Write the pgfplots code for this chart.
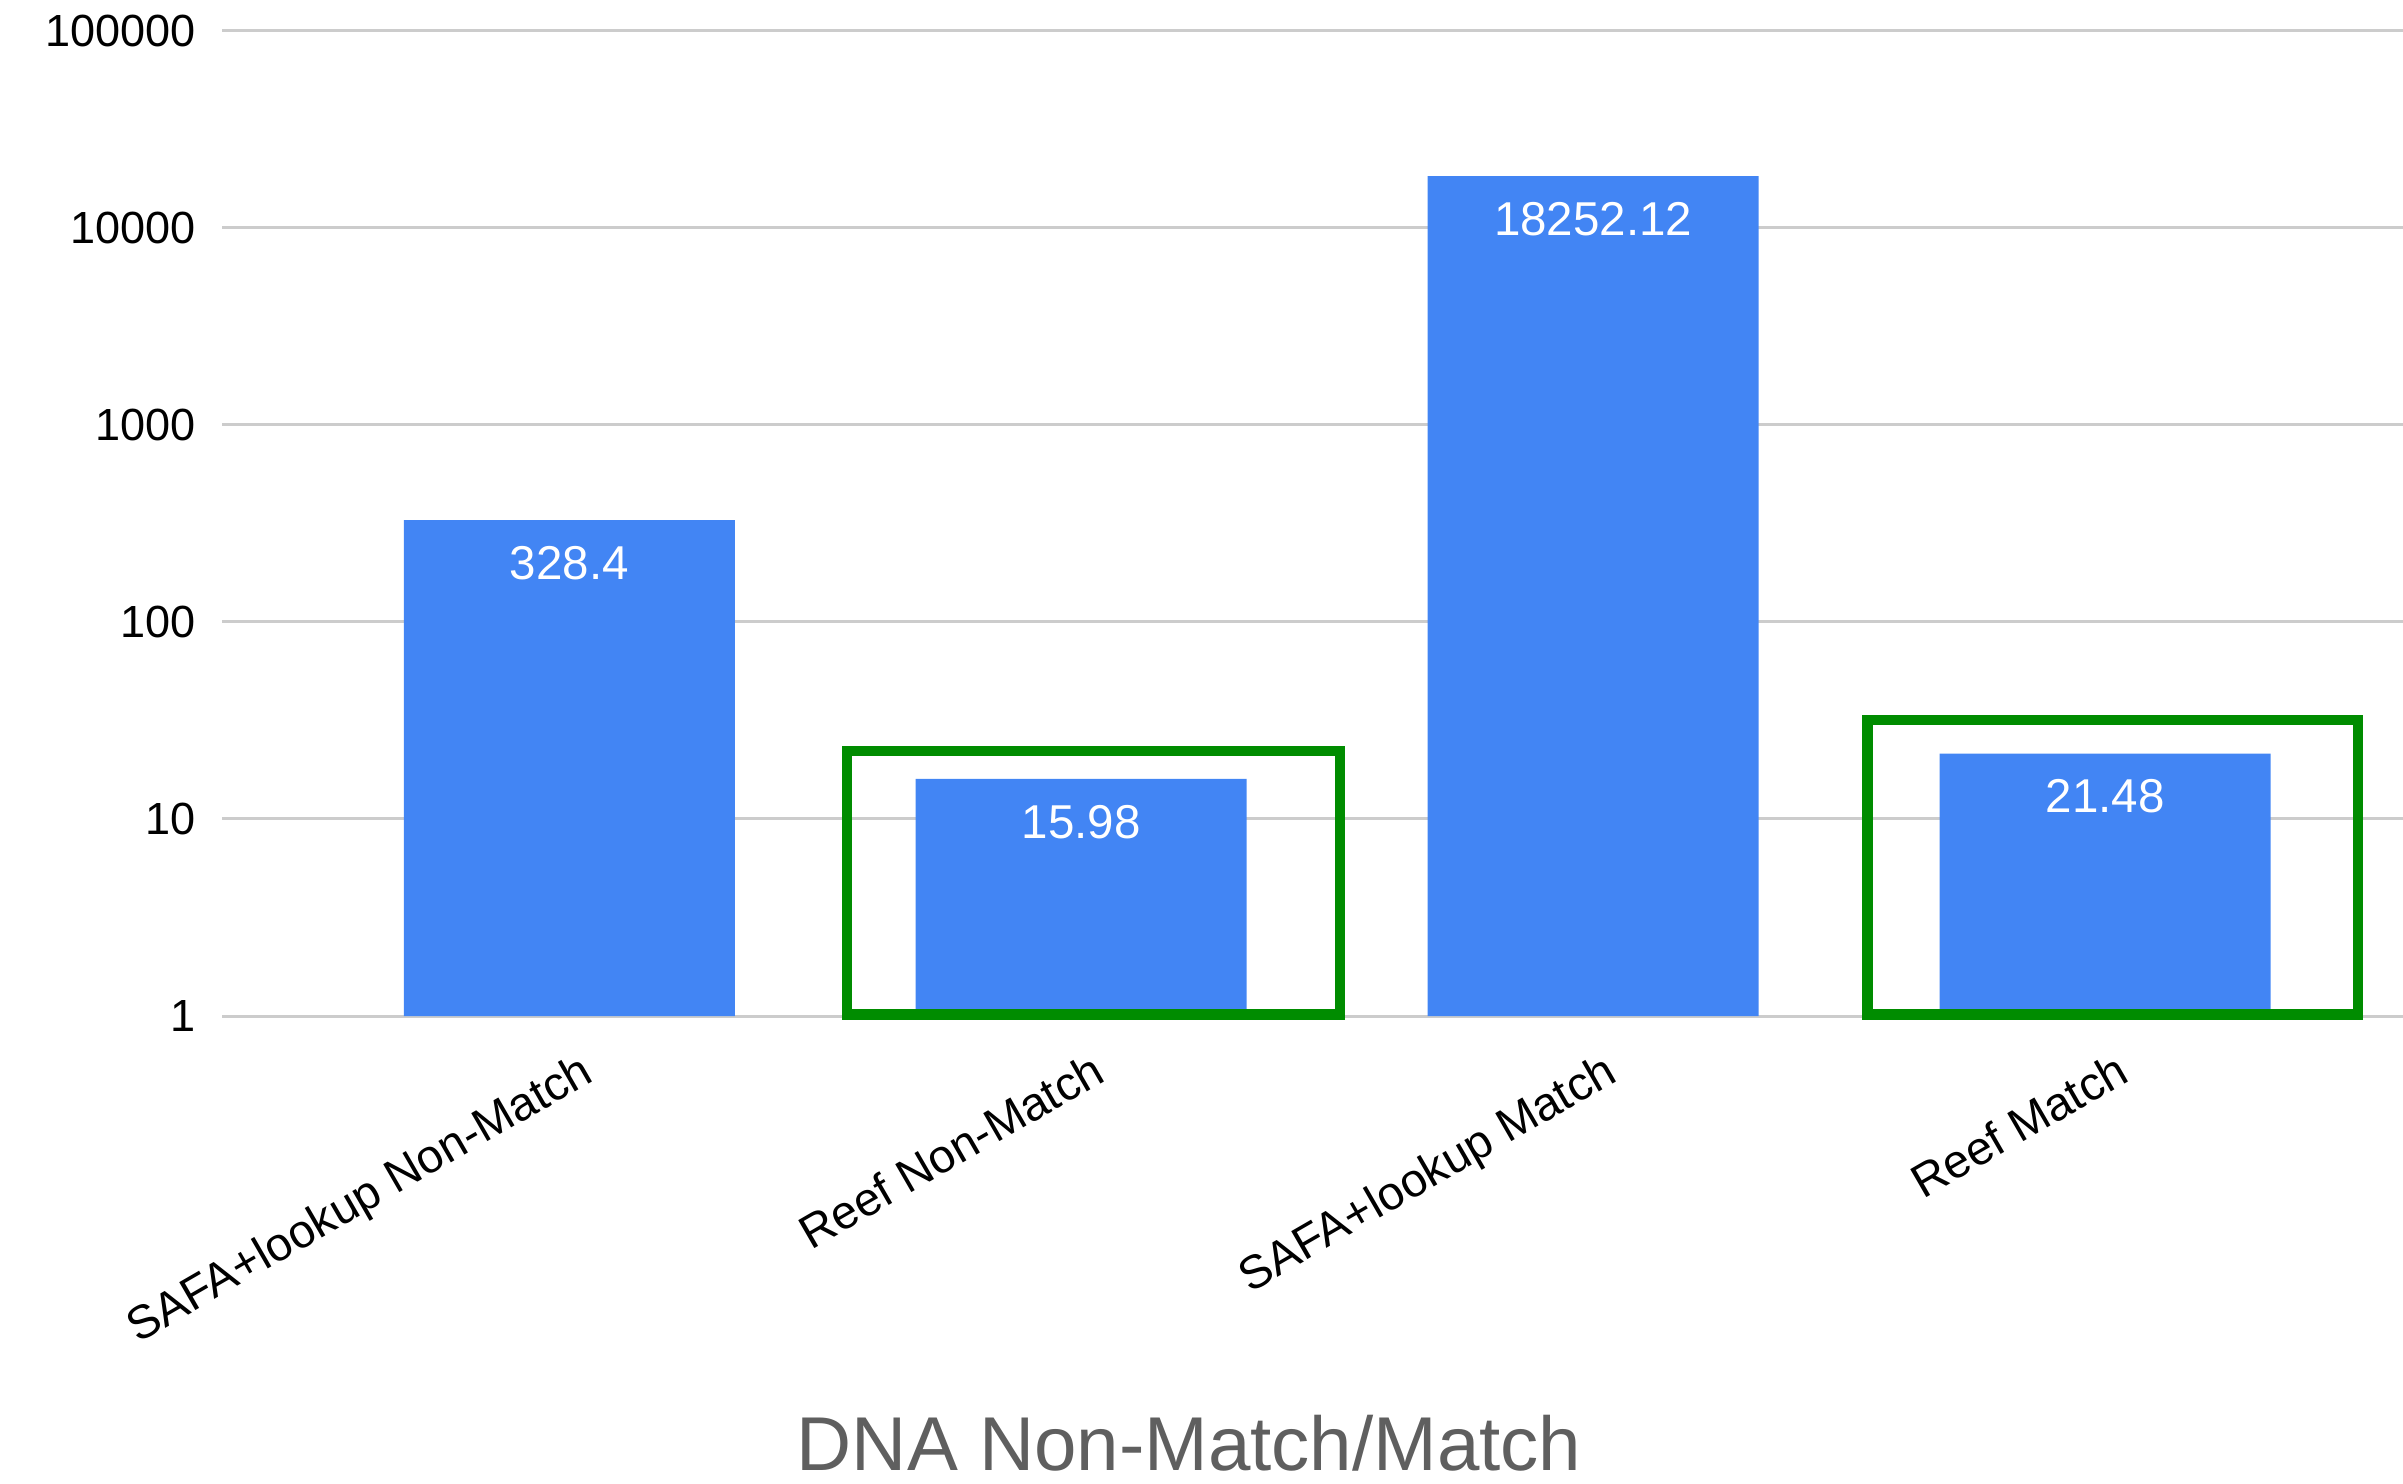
\documentclass[border=0pt]{standalone}
\usepackage{fontspec}
\setmainfont{Liberation Sans}
\usepackage{pgfplots}
\pgfplotsset{compat=1.18}
\definecolor{barblue}{HTML}{4285F4}
\definecolor{boxgreen}{HTML}{008C00}
\definecolor{gridgray}{HTML}{CCCCCC}
\definecolor{titlegray}{HTML}{5F5F5F}
\begin{document}
\begin{tikzpicture}
\begin{axis}[
 scale only axis, width=711.5pt, height=321.5pt,
 ymode=log, ymin=1, ymax=100000, log basis y=10,
 xmin=-0.678, xmax=3.582,
 ybar, bar width=108pt,
 ytick={1,10,100,1000,10000,100000},
 yticklabels={1,10,100,1000,10000,100000},
 xtick={0,1,2,3},
 xticklabels={SAFA+lookup Non-Match, Reef Non-Match, SAFA+lookup Match, Reef Match},
 ymajorgrids, grid style={gridgray, line width=1pt},
 axis line style={draw=none}, major tick length=0pt, tick style={draw=none},
 yticklabel style={font=\fontsize{14.7}{16}\selectfont, anchor=east, inner sep=0pt, xshift=-8.5pt},
 xticklabel style={font=\fontsize{15.3}{17}\selectfont, xshift=3pt, yshift=-11pt, rotate=30, anchor=north east, inner sep=0pt},
 /pgf/number format/assume math mode=true,
 xlabel={DNA Non-Match/Match},
 xlabel style={at={(rel axis cs:0.4434,-0.461)}, anchor=base, font=\fontsize{24.9}{28}\selectfont, text=titlegray},
 clip=false,
 nodes near coords, point meta=explicit symbolic,
 nodes near coords style={anchor=north, yshift=-5pt, text=white, font=\fontsize{15.5}{17}\selectfont},
]
\addplot[fill=barblue, draw=none] table[meta=label] {
x y label
0 328.4 328.4
1 15.98 15.98
2 18252.12 18252.12
3 21.48 21.48
};
\draw[boxgreen, line width=3.4pt] (axis cs:0.542,1.02) rectangle (axis cs:1.506,22.1);
\draw[boxgreen, line width=3.4pt] (axis cs:2.536,1.02) rectangle (axis cs:3.494,31.7);
\coordinate (bbSW) at (rel axis cs:-0.1019,-0.4743);
\coordinate (bbNE) at (rel axis cs:1,1.0311);
\end{axis}
\pgfresetboundingbox
\path[use as bounding box] (bbSW) rectangle (bbNE);
\end{tikzpicture}
\end{document}
